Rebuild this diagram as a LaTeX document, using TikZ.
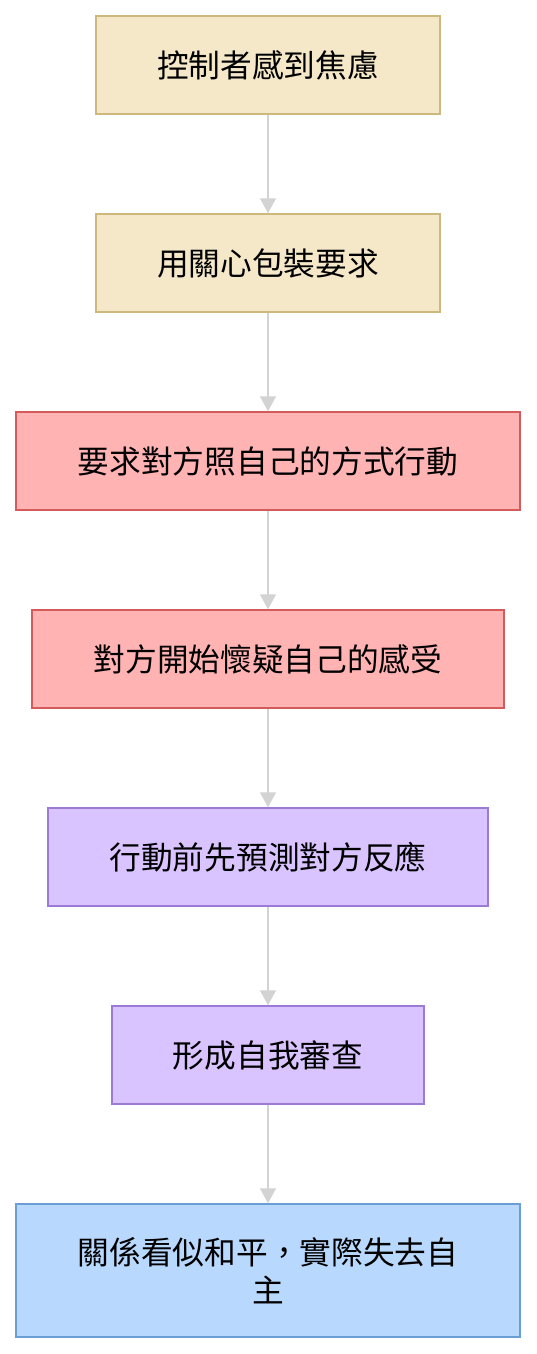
\documentclass[tikz,border=0pt]{standalone}
\usepackage{fontspec}
\setmainfont{Noto Sans CJK TC}
\usetikzlibrary{arrows.meta}
\definecolor{beigeF}{HTML}{F4E8C9}
\definecolor{beigeD}{HTML}{CDB87E}
\definecolor{redF}{HTML}{FFB3B3}
\definecolor{redD}{HTML}{D45B5B}
\definecolor{purF}{HTML}{D9C4FF}
\definecolor{purD}{HTML}{9C7BD6}
\definecolor{bluF}{HTML}{B8D8FD}
\definecolor{bluD}{HTML}{6C9ED6}
\definecolor{arrowC}{HTML}{D3D3D3}
\begin{document}
\begin{tikzpicture}[x=1pt,y=-1pt,
  box/.style={draw, line width=1.5pt, inner sep=0pt, align=center,
    font=\fontsize{31.7}{38}\selectfont, minimum height=98pt},
  beige/.style={box, fill=beigeF, draw=beigeD},
  redb/.style={box, fill=redF, draw=redD},
  purb/.style={box, fill=purF, draw=purD},
  blub/.style={box, fill=bluF, draw=bluD},
  conn/.style={draw=arrowC, line width=1.5pt, -{Triangle[width=16pt,length=15pt]}}]
\useasboundingbox (0,0) rectangle (536,1354);
\node[beige, minimum width=344pt] (n1) at (268,65) {\raisebox{-1pt}{控制者感到焦慮}};
\node[beige, minimum width=344pt] (n2) at (268,263) {\raisebox{-1pt}{用關心包裝要求}};
\node[redb, minimum width=504pt] (n3) at (268,461) {\raisebox{-1pt}{要求對方照自己的方式行動}};
\node[redb, minimum width=472pt] (n4) at (268,659) {\raisebox{-1pt}{對方開始懷疑自己的感受}};
\node[purb, minimum width=440pt] (n5) at (268,857) {\raisebox{-1pt}{行動前先預測對方反應}};
\node[purb, minimum width=312pt] (n6) at (268,1055) {\raisebox{-1pt}{形成自我審查}};
\node[blub, minimum width=504pt, minimum height=133pt] (n7) at (268,1270.5) {關係看似和平，實際失去自\\主};
\draw[conn] (n1) -- (n2);
\draw[conn] (n2) -- (n3);
\draw[conn] (n3) -- (n4);
\draw[conn] (n4) -- (n5);
\draw[conn] (n5) -- (n6);
\draw[conn] (n6) -- (n7);
\end{tikzpicture}
\end{document}
